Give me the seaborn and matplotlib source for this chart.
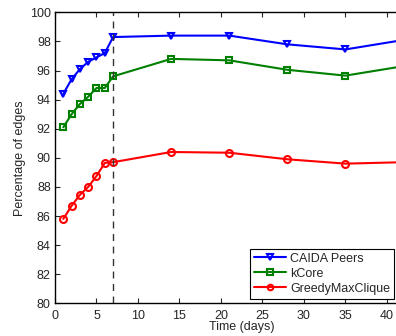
import matplotlib
matplotlib.use("Agg")
import matplotlib.pyplot as plt
import seaborn as sns
import pandas as pd

days = [1, 2, 3, 4, 5, 6, 7, 14, 21, 28, 35, 42]
caida_peers = [94.4, 95.4, 96.1, 96.6, 96.9, 97.2, 98.3, 98.4, 98.4, 97.8, 97.45, 98.1]
kcore = [92.1, 93.0, 93.7, 94.2, 94.8, 94.8, 95.6, 96.8, 96.7, 96.05, 95.65, 96.3]
greedy = [85.8, 86.7, 87.45, 88.0, 88.75, 89.65, 89.7, 90.4, 90.35, 89.9, 89.6, 89.7]
series_names = ["CAIDA Peers", "kCore", "GreedyMaxClique"]
x_ticks = [0, 5, 10, 15, 20, 25, 30, 35, 40]
y_ticks = [80, 82, 84, 86, 88, 90, 92, 94, 96, 98, 100]
cutoff_day = 7

sns.set_style("ticks")
plt.rcParams['font.family'] = ['Liberation Sans', 'DejaVu Sans']

df = pd.DataFrame({
    "day": days * 3,
    "value": caida_peers + kcore + greedy,
    "series": [series_names[0]] * len(days) + [series_names[1]] * len(days) + [series_names[2]] * len(days),
})

fig = plt.figure(figsize=(3.96, 3.36), dpi=100)
ax = fig.add_axes([0.1389, 0.0973, 0.943, 0.866])

palette = {"CAIDA Peers": "#0000ff", "kCore": "#008000", "GreedyMaxClique": "#ff0000"}
markers = {"CAIDA Peers": "v", "kCore": "s", "GreedyMaxClique": "o"}
sns.lineplot(data=df, x="day", y="value", hue="series", style="series",
             palette=palette, markers=markers, dashes=False, linewidth=1.5,
             markersize=5, markerfacecolor="none", markeredgewidth=1.5, ax=ax)
for line, name in zip(ax.lines, series_names):
    line.set_markeredgecolor(palette[name])
    line.set_markerfacecolor("none")

ax.axvline(cutoff_day, color="#333333", linestyle=(0, (5, 4)), linewidth=1)

ax.set_xlim(0, 45)
ax.set_ylim(80, 100)
ax.set_xticks(x_ticks)
ax.set_yticks(y_ticks)
ax.tick_params(direction="in", labelsize=9, length=3.5, width=0.8, top=True, right=True)
ax.tick_params(axis="x", pad=5)
ax.tick_params(axis="y", pad=3)
for sp in ax.spines.values():
    sp.set_visible(True)
    sp.set_linewidth(1.0)
    sp.set_color("black")
ax.set_xlabel("Time (days)", fontsize=9, labelpad=-1)
ax.set_ylabel("Percentage of edges", fontsize=9, labelpad=3)

handles, labels = ax.get_legend_handles_labels()
for h, name in zip(handles, labels):
    h.set_markerfacecolor("none")
    h.set_markeredgecolor(palette[name])
    h.set_markersize(4)
leg = ax.legend(handles, labels, loc="lower left", bbox_to_anchor=(250 / 396, (336 - 298.5) / 336),
                bbox_transform=fig.transFigure, fontsize=9, frameon=True, fancybox=False,
                edgecolor="black", framealpha=1, borderpad=0.3, labelspacing=0.25,
                handlelength=2.6, handletextpad=0.3, borderaxespad=0)
leg.get_frame().set_linewidth(0.8)

fig.savefig("out.png", dpi=100)
